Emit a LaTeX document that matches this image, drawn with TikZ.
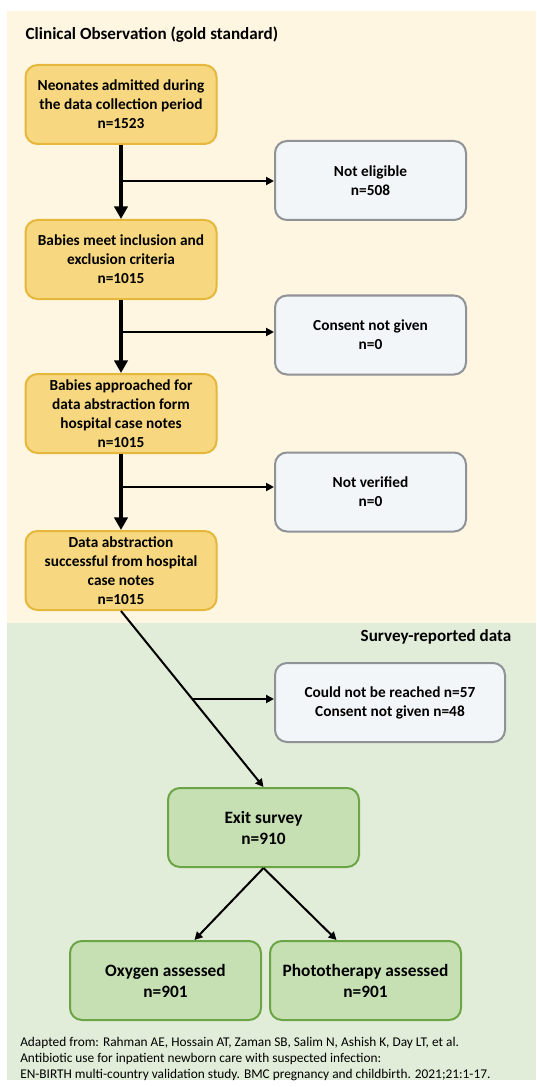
\documentclass[tikz,border=0pt]{standalone}
\usepackage{fontspec}
\setmainfont{Carlito}
\usetikzlibrary{positioning, arrows.meta, calc}

\definecolor{clinbg}{HTML}{FEF6E1}
\definecolor{survbg}{HTML}{E2EDD9}
\definecolor{stagefill}{HTML}{F7D77F}
\definecolor{stageline}{HTML}{E5B73B}
\definecolor{dropfill}{HTML}{F3F6F8}
\definecolor{dropline}{HTML}{8F9296}
\definecolor{survfill}{HTML}{C6E0B4}
\definecolor{survline}{HTML}{6CA545}

\newcommand\boxfont{\fontsize{11.5}{14.25}\selectfont\bfseries}
\newcommand\survfont{\fontsize{13}{15.75}\selectfont\bfseries}

\begin{document}
\begin{tikzpicture}[x=0.75pt,y=-0.75pt,
    box/.style={line width=1.5pt, rounded corners=9pt, minimum width=143.25pt,
                minimum height=59.25pt, align=center, inner sep=2pt, font=\boxfont},
    stage/.style={box, fill=stagefill, draw=stageline},
    drop/.style={box, fill=dropfill, draw=dropline},
    survey/.style={box, fill=survfill, draw=survline, font=\survfont},
    main/.style={line width=3.2pt, -{Triangle[width=10pt,length=9.5pt]}},
    side/.style={line width=1.5pt, -{Triangle[width=6pt,length=6pt]}}
]
    \useasboundingbox (0,0) rectangle (536,1087);
    \fill[clinbg] (7,11) rectangle (536,623);
    \fill[survbg] (7,623) rectangle (536,1080);

    \node[anchor=west, font=\fontsize{12.8}{15}\selectfont\bfseries] (clintitle) at (21,35) {Clinical Observation (gold standard)};
    \node[anchor=east, font=\fontsize{12.8}{15}\selectfont\bfseries] (survtitle) at (516,637) {Survey-reported data};

    \node[stage] (s0) at (121,104.5) {Neonates admitted during\\the data collection period\\n=1523};
    \node[drop] (x0) at (370.5,180.5) {Not eligible\\n=508};
    \node[stage] (s1) at (121,259.5) {Babies meet inclusion and\\exclusion criteria\\n=1015};
    \node[drop] (x1) at (370.5,335) {Consent not given\\n=0};
    \node[stage] (s2) at (121,413.5) {Babies approached for\\data abstraction form\\hospital case notes\\n=1015};
    \node[drop] (x2) at (370.5,492) {Not verified\\n=0};
    \node[stage] (s3) at (121,570.5) {Data abstraction\\successful from hospital\\case notes\\n=1015};
    \node[drop, minimum width=172.5pt] (x3) at (390,702.5) {Could not be reached n=57\\Consent not given n=48};

    \node[survey] (ex) at (263.5,827.5) {Exit survey\\n=910};
    \node[survey] (ox) at (165.5,980.5) {Oxygen assessed\\n=901};
    \node[survey] (ph) at (365.5,980.5) {Phototherapy assessed\\n=901};

    \node[anchor=west, align=left, inner sep=0pt, font=\fontsize{10}{12}\selectfont] (cite) at (20,1059)
        {Adapted from: Rahman AE, Hossain AT, Zaman SB, Salim N, Ashish K, Day LT, et al.\\
         Antibiotic use for inpatient newborn care with suspected infection:\\
         EN-BIRTH multi-country validation study. BMC pregnancy and childbirth. 2021;21:1-17.};

    % clinical stages
    \draw[main] (s0) -- (s1);
    \draw[main] (s1) -- (s2);
    \draw[main] (s2) -- (s3);
    \coordinate (b0) at (121,181);
    \coordinate (b1) at (121,332);
    \coordinate (b2) at (121,487);
    \draw[side] (b0) -- (b0 -| x0.west);
    \draw[side] (b1) -- (b1 -| x1.west);
    \draw[side] (b2) -- (b2 -| x2.west);

    % survey
    \draw[side] (s3.south) -- (ex.north);
    \coordinate (b3) at ($(s3.south)!0.5!(ex.north)$);
    \draw[side] (b3) -- (b3 -| x3.west);
    \draw[side] (ex.south) -- ($(ox.north)!0.3!(ox.north east)$);
    \draw[side] (ex.south) -- ($(ph.north)!0.3!(ph.north west)$);
\end{tikzpicture}
\end{document}
